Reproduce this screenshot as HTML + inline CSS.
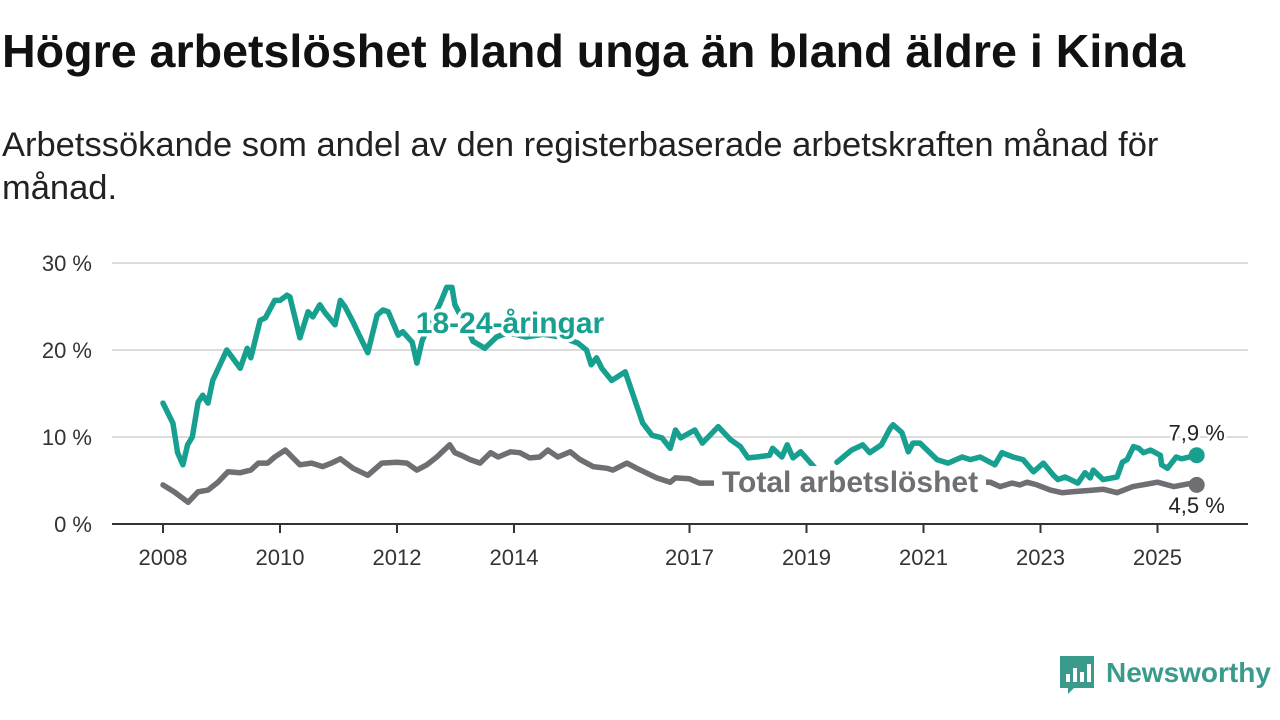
<!DOCTYPE html>
<html><head><meta charset="utf-8">
<style>
body{margin:0;width:1280px;height:720px;background:#fff;font-family:"Liberation Sans",sans-serif;overflow:hidden;position:relative}
h1{position:absolute;left:2px;top:24px;margin:0;font-size:46.6px;font-weight:bold;color:#111;letter-spacing:0}
.sub{position:absolute;left:2px;top:124px;margin:0;font-size:34.5px;line-height:43px;color:#222;width:1200px}
svg{position:absolute;left:0;top:0}
</style></head><body>
<h1>Högre arbetslöshet bland unga än bland äldre i Kinda</h1>
<p class="sub">Arbetssökande som andel av den registerbaserade arbetskraften månad för månad.</p>
<svg id="chart" width="1280" height="720"></svg>
<script>
const yTicks=[0,10,20,30];
const yTickLabels=["0 %","10 %","20 %","30 %"];
const xTicks=[2008,2010,2012,2014,2017,2019,2021,2023,2025];
const youthYears=[2008.0,2008.17,2008.25,2008.34,2008.42,2008.5,2008.6,2008.68,2008.77,2008.85,2009.09,2009.32,2009.44,2009.5,2009.66,2009.75,2009.91,2010.0,2010.12,2010.17,2010.34,2010.48,2010.56,2010.68,2010.77,2010.94,2011.03,2011.11,2011.25,2011.37,2011.5,2011.66,2011.76,2011.85,2012.02,2012.1,2012.26,2012.34,2012.43,2012.6,2012.74,2012.85,2012.94,2012.99,2013.2,2013.3,2013.5,2013.7,2013.9,2014.2,2014.5,2014.8,2015.09,2015.24,2015.32,2015.41,2015.5,2015.67,2015.9,2016.2,2016.36,2016.53,2016.67,2016.76,2016.85,2017.09,2017.22,2017.49,2017.7,2017.87,2018.0,2018.15,2018.37,2018.42,2018.58,2018.67,2018.77,2018.9,2019.15,null,2019.52,2019.77,2019.96,2020.08,2020.28,2020.43,2020.48,2020.63,2020.74,2020.82,2020.94,2021.23,2021.42,2021.66,2021.8,2021.97,2022.22,2022.34,2022.53,2022.7,2022.88,2023.05,2023.22,2023.3,2023.42,2023.64,2023.76,2023.85,2023.9,2024.07,2024.31,2024.4,2024.48,2024.59,2024.68,2024.76,2024.88,2025.05,2025.07,2025.17,2025.32,2025.41,2025.67];
const youthValues=[13.9,11.6,8.2,6.8,9.1,10.0,14.0,14.8,13.9,16.5,20.0,17.9,20.2,19.1,23.4,23.7,25.7,25.7,26.3,26.1,21.4,24.4,23.8,25.2,24.3,22.9,25.7,25.0,23.2,21.5,19.7,24.0,24.6,24.4,21.7,22.1,20.9,18.5,21.1,23.5,25.4,27.2,27.2,25.2,22.5,21.0,20.2,21.5,22.0,21.5,21.8,21.5,20.8,20.0,18.3,19.1,17.9,16.5,17.5,11.6,10.2,9.9,8.7,10.8,9.9,10.8,9.3,11.2,9.7,8.9,7.6,7.7,7.9,8.7,7.7,9.1,7.6,8.3,6.4,null,7.1,8.5,9.1,8.2,9.1,11.0,11.4,10.5,8.3,9.3,9.3,7.4,7.0,7.7,7.4,7.7,6.8,8.2,7.7,7.4,6.0,7.0,5.6,5.1,5.4,4.7,5.9,5.3,6.2,5.1,5.4,7.1,7.4,8.9,8.7,8.2,8.5,7.9,6.8,6.4,7.7,7.5,7.9];
const totalYears=[2008.0,2008.19,2008.43,2008.6,2008.77,2008.94,2009.11,2009.32,2009.5,2009.63,2009.79,2009.91,2010.09,2010.34,2010.54,2010.73,2010.88,2011.03,2011.25,2011.5,2011.74,2012.0,2012.17,2012.34,2012.51,2012.68,2012.9,2012.99,2013.1,2013.25,2013.42,2013.6,2013.73,2013.94,2014.1,2014.27,2014.44,2014.58,2014.75,2014.96,2015.13,2015.35,2015.59,2015.69,2015.93,2016.1,2016.44,2016.67,2016.76,2017.0,2017.17,2017.4,2018.0,2019.0,2020.0,2021.0,2021.6,2022.14,2022.31,2022.51,2022.65,2022.77,2022.94,2023.17,2023.37,2023.54,2023.9,2024.07,2024.31,2024.58,2025.0,2025.28,2025.6,2025.67];
const totalValues=[4.5,3.7,2.5,3.7,3.9,4.8,6.0,5.9,6.2,7.0,7.0,7.7,8.5,6.8,7.0,6.6,7.0,7.5,6.4,5.6,7.0,7.1,7.0,6.2,6.8,7.7,9.1,8.2,7.9,7.4,7.0,8.2,7.7,8.3,8.2,7.6,7.7,8.5,7.7,8.3,7.4,6.6,6.4,6.2,7.0,6.4,5.3,4.8,5.3,5.2,4.7,4.7,4.6,4.9,5.0,5.1,4.9,4.8,4.3,4.7,4.5,4.8,4.5,3.9,3.6,3.7,3.9,4.0,3.6,4.3,4.8,4.3,4.7,4.5];

const NS='http://www.w3.org/2000/svg';
const svg=document.getElementById('chart');
const X=t=>163+(t-2008)*58.5;
const Y=v=>524-v*8.7;
function mk(tag,attrs,parent){const e=document.createElementNS(NS,tag);for(const k in attrs)e.setAttribute(k,attrs[k]);(parent||svg).appendChild(e);return e;}

yTicks.forEach((v,i)=>{
  if(v>0){const g=mk('line',{x1:112,x2:1248,y1:Y(v),y2:Y(v),stroke:'#dcdcdc','stroke-width':2});
  
  }
  const t=mk('text',{x:92,y:Y(v)+8,'text-anchor':'end','font-size':22,fill:'#333'});
  t.textContent=yTickLabels[i];
  
  
});
const ax=mk('line',{x1:112,x2:1248,y1:524,y2:524,stroke:'#333','stroke-width':2});


xTicks.forEach(yr=>{
  const tk=mk('line',{x1:X(yr),x2:X(yr),y1:524,y2:533,stroke:'#333','stroke-width':2});
  
  
  const t=mk('text',{x:X(yr),y:565,'text-anchor':'middle','font-size':22,fill:'#333'});
  t.textContent=yr;
  
  
});
function pathFor(xs,vs){let d='',pen=false;for(let i=0;i<xs.length;i++){if(vs[i]==null||xs[i]==null){pen=false;continue;}d+=(pen?'L':'M')+X(xs[i]).toFixed(1)+','+Y(vs[i]).toFixed(1);pen=true;}return d;}
const tl=mk('path',{d:pathFor(totalYears,totalValues),fill:'none',stroke:'#6e6e73','stroke-width':5.5,'stroke-linejoin':'round','stroke-linecap':'round'});


const yl=mk('path',{d:pathFor(youthYears,youthValues),fill:'none',stroke:'#17a08f','stroke-width':5.5,'stroke-linejoin':'round','stroke-linecap':'round'});


const yEnd=youthValues[youthValues.length-1], tEnd=totalValues[totalValues.length-1];
const yx=X(youthYears[youthYears.length-1]), tx=X(totalYears[totalYears.length-1]);
const d1=mk('circle',{cx:yx,cy:Y(yEnd),r:8,fill:'#17a08f'});


const d2=mk('circle',{cx:tx,cy:Y(tEnd),r:8,fill:'#6e6e73'});


const l1=mk('text',{x:yx,y:Y(yEnd)-15,'text-anchor':'middle','font-size':22,fill:'#222',stroke:'#fff','stroke-width':5,'paint-order':'stroke'});
l1.textContent=String(yEnd).replace('.',',')+' %';


const l2=mk('text',{x:tx,y:Y(tEnd)+28,'text-anchor':'middle','font-size':22,fill:'#222',stroke:'#fff','stroke-width':5,'paint-order':'stroke'});
l2.textContent=String(tEnd).replace('.',',')+' %';


const s1=mk('text',{x:510,y:333,'text-anchor':'middle','font-size':30,'font-weight':'bold',fill:'#17a08f',stroke:'#fff','stroke-width':7,'paint-order':'stroke'});
s1.textContent='18-24-åringar';


const s2bg=mk('rect',{x:714,y:466,width:272,height:32,fill:'#fff'});


const s2=mk('text',{x:850,y:492,'text-anchor':'middle','font-size':30,'font-weight':'bold',fill:'#6e6e73'});
s2.textContent='Total arbetslöshet';


</script>
<svg width="1280" height="720" style="pointer-events:none">
<path d="M1060,656 h34 v32 h-20 l-6,6 v-6 h-8 z" fill="#3a9a8c"/>
<rect x="1066" y="674" width="4" height="8" fill="#fff"/><rect x="1073" y="668" width="4" height="14" fill="#fff"/><rect x="1080" y="672" width="4" height="10" fill="#fff"/><rect x="1087" y="664" width="4" height="18" fill="#fff"/>
<text x="1106" y="682" font-size="28" font-weight="bold" fill="#3a9a8c" font-family="Liberation Sans, sans-serif">Newsworthy</text>
</svg>
</body></html>
